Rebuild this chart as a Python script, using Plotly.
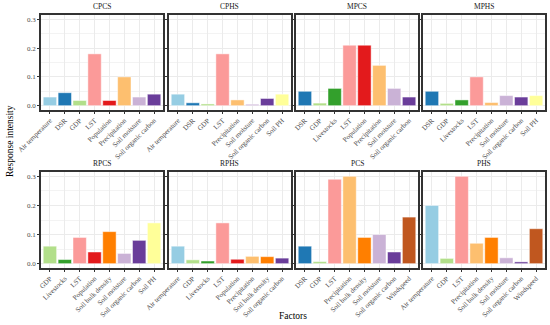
import plotly.graph_objects as go

panel_names = ["CPCS", "CPHS", "MPCS", "MPHS", "RPCS", "RPHS", "PCS", "PHS"]

cpcs_factors = ["Air temperature", "DSR", "GDP", "LST", "Population", "Precipitation", "Soil moisture", "Soil organic carbon"]
cpcs_values = [0.030, 0.045, 0.018, 0.180, 0.018, 0.100, 0.030, 0.040]

cphs_factors = ["Air temperature", "DSR", "GDP", "LST", "Precipitation", "Soil moisture", "Soil organic carbon", "Soil PH"]
cphs_values = [0.040, 0.010, 0.006, 0.180, 0.020, 0.005, 0.025, 0.040]

mpcs_factors = ["DSR", "GDP", "Livestocks", "LST", "Population", "Precipitation", "Soil moisture", "Soil organic carbon"]
mpcs_values = [0.050, 0.009, 0.060, 0.210, 0.210, 0.140, 0.060, 0.030]

mphs_factors = ["DSR", "GDP", "Livestocks", "LST", "Precipitation", "Soil moisture", "Soil organic carbon", "Soil PH"]
mphs_values = [0.050, 0.008, 0.020, 0.100, 0.011, 0.035, 0.030, 0.035]

rpcs_factors = ["GDP", "Livestocks", "LST", "Population", "Soil bulk density", "Soil moisture", "Soil organic carbon", "Soil PH"]
rpcs_values = [0.060, 0.014, 0.090, 0.040, 0.110, 0.035, 0.080, 0.140]

rphs_factors = ["Air temperature", "GDP", "Livestocks", "LST", "Population", "Precipitation", "Soil bulk density", "Soil organic carbon"]
rphs_values = [0.060, 0.013, 0.009, 0.140, 0.015, 0.025, 0.024, 0.019]

pcs_factors = ["DSR", "GDP", "LST", "Precipitation", "Soil bulk density", "Soil moisture", "Soil organic carbon", "Windspeed"]
pcs_values = [0.060, 0.007, 0.290, 0.300, 0.090, 0.100, 0.040, 0.160]

phs_factors = ["Air temperature", "GDP", "LST", "Precipitation", "Soil bulk density", "Soil moisture", "Soil organic carbon", "Windspeed"]
phs_values = [0.200, 0.018, 0.300, 0.070, 0.090, 0.020, 0.006, 0.120]

factor_colors = {
    "Air temperature": "#96CDE3",
    "DSR": "#1F78B4",
    "GDP": "#B2DF8A",
    "Livestocks": "#33A02C",
    "LST": "#FB9A99",
    "Population": "#E31A1C",
    "Precipitation": "#FDBF6F",
    "Soil bulk density": "#FF7F00",
    "Soil moisture": "#CAB2D6",
    "Soil organic carbon": "#6A3D9A",
    "Soil PH": "#FFFF99",
    "Windspeed": "#C0571F",
}

panels = [
    (cpcs_factors, cpcs_values), (cphs_factors, cphs_values),
    (mpcs_factors, mpcs_values), (mphs_factors, mphs_values),
    (rpcs_factors, rpcs_values), (rphs_factors, rphs_values),
    (pcs_factors, pcs_values), (phs_factors, phs_values),
]

W, H = 550, 325
col_px = [(41, 163), (169, 291), (296, 418), (423, 545)]
row_px = [(15, 110), (172, 268)]

FONT = "Liberation Serif, Times New Roman, serif"
fig = go.Figure()
layout = {}
annotations = []

for i, (name, (facs, vals)) in enumerate(zip(panel_names, panels)):
    r, c = divmod(i, 4)
    n = i + 1
    xa = "xaxis" if n == 1 else f"xaxis{n}"
    ya = "yaxis" if n == 1 else f"yaxis{n}"
    xref = "x" if n == 1 else f"x{n}"
    yref = "y" if n == 1 else f"y{n}"
    x0, x1 = col_px[c]
    y0, y1 = row_px[r]
    fig.add_trace(go.Bar(
        x=facs, y=vals, xaxis=xref, yaxis=yref,
        marker=dict(color=[factor_colors[f] for f in facs],
                    line=dict(color="rgba(255,255,255,0.6)", width=0.8)),
        width=0.9, showlegend=False,
    ))
    layout[xa] = dict(
        domain=[x0 / W, x1 / W], anchor=yref, type="category",
        range=[-0.6, len(facs) - 0.4], tickangle=-45, automargin=False,
        tickfont=dict(family=FONT, size=7, color="#4D4D4D"),
        showgrid=True, gridcolor="#EBEBEB", gridwidth=0.8,
        showline=True, mirror=True, linecolor="#333333", linewidth=1.5,
        ticks="outside", ticklen=2, tickcolor="#333333", tickwidth=0.6,
        zeroline=False, fixedrange=True,
    )
    layout[ya] = dict(
        domain=[1 - y1 / H, 1 - y0 / H], anchor=xref, automargin=False,
        range=[-0.015, 0.315], tickvals=[0, 0.1, 0.2, 0.3],
        ticktext=["0.0", "0.1", "0.2", "0.3"],
        showticklabels=(c == 0),
        tickfont=dict(family=FONT, size=7, color="#4D4D4D"),
        showgrid=True, gridcolor="#EBEBEB", gridwidth=0.8,
        minor=dict(tickvals=[0.05, 0.15, 0.25], showgrid=True, gridcolor="#F3F3F3", gridwidth=0.5),
        showline=True, mirror=True, linecolor="#333333", linewidth=1.5,
        ticks="outside", ticklen=2, tickcolor="#333333", tickwidth=0.6,
        zeroline=False, fixedrange=True,
    )
    annotations.append(dict(
        text=name, x=(x0 + x1) / 2 / W, y=1 - (y0 - 2) / H,
        xref="paper", yref="paper", xanchor="center", yanchor="bottom",
        showarrow=False, font=dict(family=FONT, size=7.5, color="#1A1A1A"),
    ))

annotations.append(dict(
    text="Response intensity", x=10 / W, y=1 - 141 / H, xref="paper", yref="paper",
    xanchor="center", yanchor="middle", textangle=-90, showarrow=False,
    font=dict(family=FONT, size=9.5, color="black"),
))
annotations.append(dict(
    text="Factors", x=293 / W, y=1 - 316 / H, xref="paper", yref="paper",
    xanchor="center", yanchor="middle", showarrow=False,
    font=dict(family=FONT, size=9.5, color="black"),
))

fig.update_layout(
    width=W, height=H, margin=dict(l=0, r=0, t=0, b=0, autoexpand=False),
    paper_bgcolor="white", plot_bgcolor="white",
    bargap=0.1, annotations=annotations, **layout,
)

fig.write_html(
    "out.html",
    config={"displayModeBar": False},
    post_script="document.body.style.margin='0';document.body.style.overflow='hidden';",
)
